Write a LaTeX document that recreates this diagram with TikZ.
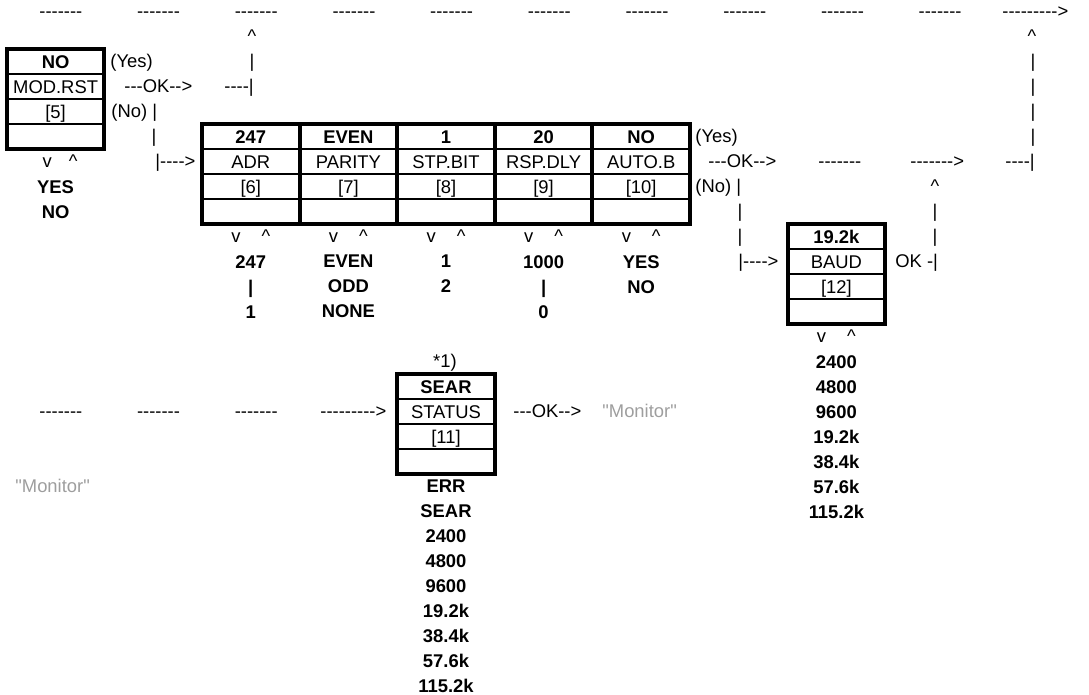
\documentclass[tikz,border=0pt]{standalone}
\usepackage{fontspec}
\usepackage{xcolor}
\usepackage{tikz}
\usetikzlibrary{positioning}
\newfontfamily\diagfont{Liberation Sans}
\newcommand{\basefont}{\diagfont\fontsize{9.2}{12.5}\selectfont}
\definecolor{monitorgray}{gray}{0.62}

\begin{document}
\begin{tikzpicture}[x=0.5pt, y=-0.5pt, node distance=12.5pt, font=\basefont,
    cell/.style={rectangle, draw, line width=1pt, minimum width=48.8pt, minimum height=12.5pt, inner sep=0pt, outer sep=0pt, text height=6.6pt, text depth=0pt},
    valcell/.style={cell, font=\basefont\bfseries},
    boxframe/.style={draw, line width=2pt},
    txt/.style={inner sep=0pt, anchor=base west},
    glyph/.style={inner sep=0pt, anchor=base},
    choices/.style={inner sep=0pt, anchor=north, align=center, font=\basefont\bfseries},
    monitor/.style={txt, text=monitorgray}]

    \useasboundingbox (0,0) rectangle (1089,695);

    % top line
    \node[txt] (top1) at (39,18) {-------};
    \node[txt] (top2) at (136.7,18) {-------};
    \node[txt] (top3) at (234.4,18) {-------};
    \node[txt] (top4) at (332.1,18) {-------};
    \node[txt] (top5) at (429.8,18) {-------};
    \node[txt] (top6) at (527.5,18) {-------};
    \node[txt] (top7) at (625.2,18) {-------};
    \node[txt] (top8) at (722.9,18) {-------};
    \node[txt] (top9) at (820.6,18) {-------};
    \node[txt] (top10) at (918.3,18) {-------};
    \node[txt] (toparrow) at (1002,18) {--------->};

    % MOD.RST
    \node[valcell] (modv) at (55.6,61.5) {NO};
    \node[cell, below of=modv] (mod) {MOD.RST};
    \node[cell, below of=mod] (modn) {[5]};
    \node[cell, below of=modn] (mode) {};
    \draw[boxframe] (modv.north west) rectangle (mode.south east);

    \node[glyph] (modsel) at (60,168) {v\hspace{8.5pt}\textasciicircum};
    \node[choices] (modlist) at (55.6,179.8) {YES\\NO};

    \node[txt] (modyes) at (110,68) {(Yes)};
    \node[txt] (modok) at (124,93) {---OK-->};
    \node[txt] (modno) at (111,118) {(No) |};
    \node[glyph] (modbar) at (154,143) {|};
    \node[txt] (modto) at (155,168) {|---->};

    \node[glyph] (modup) at (252,43) {\textasciicircum};
    \node[glyph] (modupbar) at (252,68) {|};
    \node[txt] (modback) at (224,93) {----|};

    % ADR ... AUTO.B
    \node[valcell] (adrv) at (250.8,136.5) {247};
    \node[valcell, right of=adrv, node distance=48.8pt] (parityv) {EVEN};
    \node[valcell, right of=parityv, node distance=48.8pt] (stpbitv) {1};
    \node[valcell, right of=stpbitv, node distance=48.8pt] (rspdlyv) {20};
    \node[valcell, right of=rspdlyv, node distance=48.8pt] (autobv) {NO};

    \node[cell, below of=adrv] (adr) {ADR};
    \node[cell, below of=adr] (adrn) {[6]};
    \node[cell, below of=adrn] (adre) {};
    \node[cell, below of=parityv] (parity) {PARITY};
    \node[cell, below of=parity] (parityn) {[7]};
    \node[cell, below of=parityn] (paritye) {};
    \node[cell, below of=stpbitv] (stpbit) {STP.BIT};
    \node[cell, below of=stpbit] (stpbitn) {[8]};
    \node[cell, below of=stpbitn] (stpbite) {};
    \node[cell, below of=rspdlyv] (rspdly) {RSP.DLY};
    \node[cell, below of=rspdly] (rspdlyn) {[9]};
    \node[cell, below of=rspdlyn] (rspdlye) {};
    \node[cell, below of=autobv] (autob) {AUTO.B};
    \node[cell, below of=autob] (autobn) {[10]};
    \node[cell, below of=autobn] (autobe) {};

    \draw[boxframe] (adrv.north west) rectangle (adre.south east);
    \draw[boxframe] (parityv.north west) rectangle (paritye.south east);
    \draw[boxframe] (stpbitv.north west) rectangle (stpbite.south east);
    \draw[boxframe] (rspdlyv.north west) rectangle (rspdlye.south east);
    \draw[boxframe] (autobv.north west) rectangle (autobe.south east);

    \node[glyph] (adrsel) at (250.8,243) {v\hspace{10.5pt}\textasciicircum};
    \node[glyph] (paritysel) at (348.4,243) {v\hspace{10.5pt}\textasciicircum};
    \node[glyph] (stpbitsel) at (446,243) {v\hspace{10.5pt}\textasciicircum};
    \node[glyph] (rspdlysel) at (543.6,243) {v\hspace{10.5pt}\textasciicircum};
    \node[glyph] (autobsel) at (641.2,243) {v\hspace{10.5pt}\textasciicircum};

    \node[choices] (adrlist) at (250.8,254.8) {247\\|\\1};
    \node[choices] (paritylist) at (348.4,254.8) {EVEN\\ODD\\NONE};
    \node[choices] (stpbitlist) at (446,254.8) {1\\2};
    \node[choices] (rspdlylist) at (543.6,254.8) {1000\\|\\0};
    \node[choices] (autoblist) at (641.2,254.8) {YES\\NO};

    \node[txt] (autobyes) at (695,143) {(Yes)};
    \node[txt] (autobok) at (708,168) {---OK-->};
    \node[txt] (autobrun1) at (818,168) {-------};
    \node[txt] (autobrun2) at (910,168) {------->};
    \node[txt] (autobback) at (1005,168) {----|};
    \node[txt] (autobno) at (695,193) {(No) |};
    \node[glyph] (autobbar1) at (740,218) {|};
    \node[glyph] (autobbar2) at (740,243) {|};
    \node[txt] (autobto) at (738,268) {|---->};

    \node[glyph] (backup) at (1032,43) {\textasciicircum};
    \node[glyph] (backbar1) at (1033,68) {|};
    \node[glyph] (backbar2) at (1033,93) {|};
    \node[glyph] (backbar3) at (1033,118) {|};
    \node[glyph] (backbar4) at (1033,143) {|};

    % BAUD
    \node[valcell] (baudv) at (836.4,236.5) {19.2k};
    \node[cell, below of=baudv] (baud) {BAUD};
    \node[cell, below of=baud] (baudn) {[12]};
    \node[cell, below of=baudn] (baude) {};
    \draw[boxframe] (baudv.north west) rectangle (baude.south east);

    \node[txt] (baudok) at (895,268) {OK -|};
    \node[glyph] (baudup) at (935,193) {\textasciicircum};
    \node[glyph] (baudbar1) at (935,218) {|};
    \node[glyph] (baudbar2) at (935,243) {|};

    \node[glyph] (baudsel) at (836.4,343) {v\hspace{10.5pt}\textasciicircum};
    \node[choices] (baudlist) at (836.4,354.8) {2400\\4800\\9600\\19.2k\\38.4k\\57.6k\\115.2k};

    % STATUS
    \node[txt] (stat1) at (39,418) {-------};
    \node[txt] (stat2) at (136.7,418) {-------};
    \node[txt] (stat3) at (234.4,418) {-------};
    \node[txt] (statarrow) at (320,418) {--------->};

    \node[glyph] (statnote) at (445,368) {*1)};
    \node[valcell] (statusv) at (446,386.5) {SEAR};
    \node[cell, below of=statusv] (status) {STATUS};
    \node[cell, below of=status] (statusn) {[11]};
    \node[cell, below of=statusn] (statuse) {};
    \draw[boxframe] (statusv.north west) rectangle (statuse.south east);

    \node[txt] (statusok) at (513,418) {---OK-->};
    \node[monitor] (monitorright) at (602,418) {"Monitor"};
    \node[monitor] (monitorleft) at (15,493) {"Monitor"};

    \node[choices] (statuslist) at (446,479.8) {ERR\\SEAR\\2400\\4800\\9600\\19.2k\\38.4k\\57.6k\\115.2k};

\end{tikzpicture}
\end{document}
